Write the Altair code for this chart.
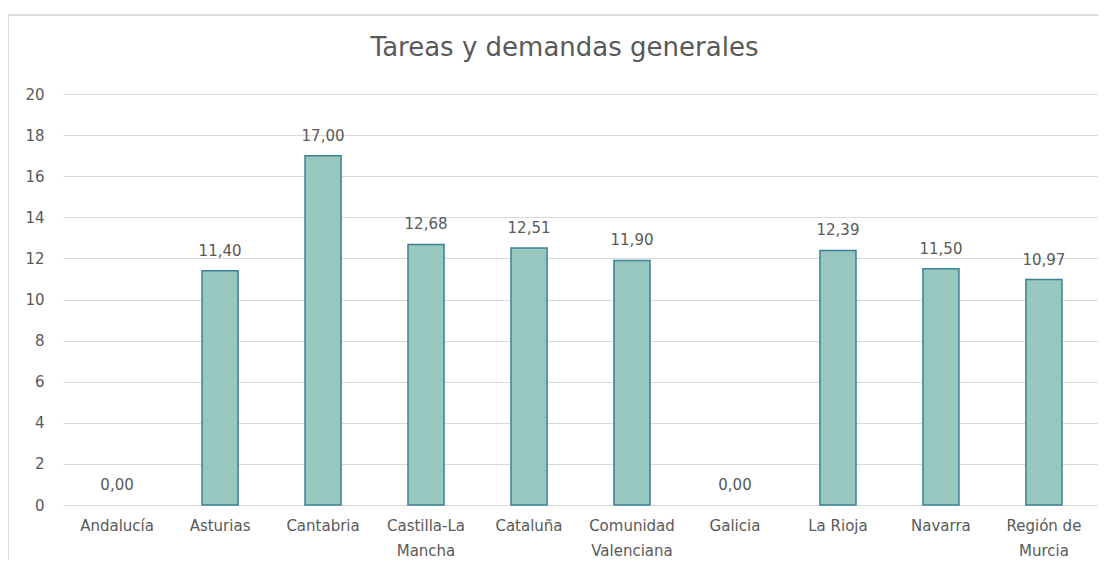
import altair as alt
import pandas as pd

categories = ["Andalucía", "Asturias", "Cantabria", "Castilla-La Mancha", "Cataluña",
              "Comunidad Valenciana", "Galicia", "La Rioja", "Navarra", "Región de Murcia"]
values = [0.00, 11.40, 17.00, 12.68, 12.51, 11.90, 0.00, 12.39, 11.50, 10.97]
y_ticks = [0, 2, 4, 6, 8, 10, 12, 14, 16, 18, 20]

df = pd.DataFrame({"region": categories, "value": values})

label_expr = ("datum.label == 'Castilla-La Mancha' ? ['Castilla-La', 'Mancha'] : "
              "datum.label == 'Comunidad Valenciana' ? ['Comunidad', 'Valenciana'] : "
              "datum.label == 'Región de Murcia' ? ['Región de', 'Murcia'] : datum.label")

FONT = "DejaVu Sans"
GREY = "#595959"

base = alt.Chart(df).encode(
    x=alt.X("region:N", sort=categories, title=None,
            scale=alt.Scale(paddingInner=0.65, paddingOuter=0.35),
            axis=alt.Axis(labelAngle=0, labelExpr=label_expr, domain=False, ticks=False,
                          labelFont=FONT, labelFontSize=15, labelColor=GREY,
                          labelPadding=13, labelLineHeight=25, labelBaseline="top")),
    y=alt.Y("value:Q", title=None,
            scale=alt.Scale(domain=[0, 20], nice=False),
            axis=alt.Axis(values=y_ticks, domain=False, ticks=False, grid=True,
                          gridColor="#d9d9d9", gridWidth=1.2,
                          labelFont=FONT, labelFontSize=15, labelColor=GREY,
                          labelPadding=19)),
)

bars = base.transform_filter("datum.value > 0").mark_bar(
    fill="#97c7bf", stroke="#3b8196", strokeWidth=1.5)

labels = base.transform_calculate(
    txt="replace(format(datum.value, '.2f'), '.', ',')"
).mark_text(baseline="alphabetic", dy=-15, font=FONT, fontSize=15, color=GREY).encode(
    text="txt:N"
)

frame = alt.Chart(df).mark_rect(fill=None, stroke="#d9d9d9", strokeWidth=1.5).encode(
    x=alt.value(-55), x2=alt.value(1100), y=alt.value(-79), y2=alt.value(600)
)

chart = alt.layer(frame, bars, labels).properties(
    width=1035, height=411,
    autosize=alt.AutoSizeParams(type="none"),
    padding={"left": 55, "top": 86, "right": 0, "bottom": 55},
    title=alt.TitleParams("Tareas y demandas generales", font=FONT, fontSize=26,
                          fontWeight="normal", color=GREY, anchor="middle",
                          frame="group", baseline="alphabetic",
                          dx=-16, offset=-68),
).configure_view(stroke=None)

chart.save("out.html", embed_options={"renderer": "svg", "actions": False})
